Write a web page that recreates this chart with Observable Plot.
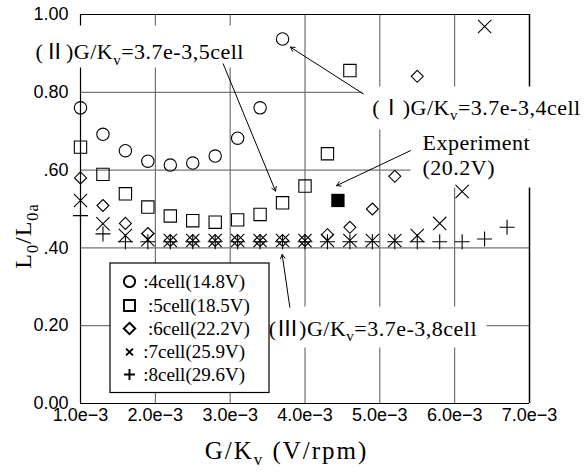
<!DOCTYPE html>
<html><head><meta charset="utf-8">
<script src="https://cdn.jsdelivr.net/npm/d3@7"></script>
<script src="https://cdn.jsdelivr.net/npm/@observablehq/plot@0.6"></script>
<style>
html,body{margin:0;padding:0;background:#fff;}
svg g[font-size="22"]{letter-spacing:0.5px;}
svg g[font-size="25"]{letter-spacing:2px;}
svg g[font-size="24"]{letter-spacing:1px;}
</style>
</head><body><div id="chart"></div>
<script>
// ---- axis ticks ----
const xTicks = [1e-3, 2e-3, 3e-3, 4e-3, 5e-3, 6e-3, 7e-3];
const xTickLabels = ["1.0e\u22123","2.0e\u22123","3.0e\u22123","4.0e\u22123","5.0e\u22123","6.0e\u22123","7.0e\u22123"];
const yTicks = [0, 0.2, 0.4, 0.6, 0.8, 1.0];
const yTickLabels = ["0.00","0.20",".40",".60","0.80","1.00"];

// ---- series data: G/Kv (V/rpm) and L0/L0a ----
const gkv4 = [1.0e-3,1.3e-3,1.6e-3,1.9e-3,2.2e-3,2.5e-3,2.8e-3,3.1e-3,3.4e-3,3.7e-3];
const ratio4 = [0.760,0.692,0.650,0.623,0.613,0.618,0.636,0.682,0.760,0.937];

const gkv5 = [1.0e-3,1.3e-3,1.6e-3,1.9e-3,2.2e-3,2.5e-3,2.8e-3,3.1e-3,3.4e-3,3.7e-3,4.0e-3,4.3e-3,4.6e-3];
const ratio5 = [0.659,0.589,0.539,0.505,0.482,0.470,0.466,0.472,0.486,0.516,0.559,0.642,0.856];

const gkv6 = [1.0e-3,1.3e-3,1.6e-3,1.9e-3,2.2e-3,2.5e-3,2.8e-3,3.1e-3,3.4e-3,3.7e-3,4.0e-3,4.3e-3,4.6e-3,4.9e-3,5.2e-3,5.5e-3];
const ratio6 = [0.580,0.509,0.463,0.437,0.419,0.419,0.419,0.419,0.419,0.419,0.419,0.434,0.453,0.500,0.584,0.841];

const gkv7 = [1.0e-3,1.3e-3,1.6e-3,1.9e-3,2.2e-3,2.5e-3,2.8e-3,3.1e-3,3.4e-3,3.7e-3,4.0e-3,4.3e-3,4.6e-3,4.9e-3,5.2e-3,5.5e-3,5.8e-3,6.1e-3,6.4e-3];
const ratio7 = [0.522,0.462,0.432,0.421,0.419,0.419,0.419,0.419,0.419,0.419,0.419,0.419,0.419,0.419,0.419,0.432,0.463,0.545,0.969];

const gkv8 = [1.0e-3,1.3e-3,1.6e-3,1.9e-3,2.2e-3,2.5e-3,2.8e-3,3.1e-3,3.4e-3,3.7e-3,4.0e-3,4.3e-3,4.6e-3,4.9e-3,5.2e-3,5.5e-3,5.8e-3,6.1e-3,6.4e-3,6.7e-3];
const ratio8 = [0.483,0.436,0.416,0.416,0.416,0.416,0.416,0.416,0.416,0.416,0.416,0.416,0.416,0.416,0.416,0.416,0.416,0.416,0.423,0.453];

const expGkv = [4.44e-3];
const expRatio = [0.522];

const legendLabels = [":4cell(14.8V)", "\u00a0:5cell(18.5V)", "\u00a0:6cell(22.2V)", ":7cell(25.9V)", ":8cell(29.6V)"];

// ---- annotations (data coordinates) ----
const annLabels = ["(\u2161)G/K_{v}=3.7e-3,5cell", "(\u2160)G/K_{v}=3.7e-3,4cell", "Experiment\n(20.2V)", "(\u2162)G/K_{v}=3.7e-3,8cell"];
const annX = [0.40e-3, 4.90e-3, 5.57e-3, 3.516e-3];
const annY = [0.907, 0.7635, 0.639, 0.1954];
const arrowX1 = [2.907e-3, 4.778e-3, 5.410e-3, 3.797e-3];
const arrowY1 = [0.873, 0.796, 0.650, 0.2476];
const arrowX2 = [3.606e-3, 3.806e-3, 4.421e-3, 3.695e-3];
const arrowY2 = [0.546, 0.916, 0.560, 0.383];

// ---- build tables ----
const toRows = (xs, ys) => xs.map((x, i) => ({x, y: ys[i]}));
const seriesRows = [toRows(gkv4, ratio4), toRows(gkv5, ratio5), toRows(gkv6, ratio6), toRows(gkv7, ratio7), toRows(gkv8, ratio8)];
const expRows = toRows(expGkv, expRatio);
const annRows = annLabels.map((t, i) => ({text: t, x: annX[i], y: annY[i]}));
const arrowRows = arrowX1.map((x1, i) => ({x1, y1: arrowY1[i], x2: arrowX2[i], y2: arrowY2[i]}));

// styles
const symbols = ["circle", "square", "diamond2", "times", "plus"];
const symR = [6.2, 6.95, 5.4, 6.1, 4.9];
const legR = [5.6, 6.2, 5.2, 3.2, 3.6];
const legDy = [267, 291, 314, 337.5, 360];

const serif = "'Liberation Serif','Noto Sans CJK JP',serif";

const marks = [
  Plot.ruleX(xTicks, {stroke: "#555", strokeWidth: 1}),
  Plot.ruleY(yTicks, {stroke: "#777", strokeWidth: 1.2}),
  Plot.ruleX([xTicks[0]], {stroke: "black", strokeWidth: 1.2}),
  Plot.ruleX([xTicks[xTicks.length - 1]], {stroke: "black", strokeWidth: 1.5}),
  Plot.ruleY([yTicks[0]], {stroke: "black", strokeWidth: 1.2}),
  Plot.ruleY([yTicks[yTicks.length - 1]], {stroke: "black", strokeWidth: 1.2}),
  // white boxes behind annotations
  Plot.frame({fill: "white", stroke: "none", insetLeft: -47, insetRight: 279, insetTop: 11, insetBottom: 336}),
  Plot.frame({fill: "white", stroke: "none", insetLeft: 282, insetRight: -55, insetTop: 72, insetBottom: 274}),
  Plot.frame({fill: "white", stroke: "none", insetLeft: 330, insetRight: -11, insetTop: 115, insetBottom: 216}),
  Plot.frame({fill: "white", stroke: "none", insetLeft: 189.5, insetRight: 43, insetTop: 292, insetBottom: 56}),
  // legend box
  Plot.frame({fill: "white", stroke: "black", strokeWidth: 1.2, insetLeft: 29.5, insetRight: 260.5, insetTop: 248.5, insetBottom: 11})
];

seriesRows.forEach((rows, i) => {
  marks.push(Plot.dot(rows, {x: "x", y: "y", symbol: () => symbols[i], r: symR[i], stroke: "black", strokeWidth: 1.1, fill: "none"}));
});
marks.push(Plot.dot(expRows, {x: "x", y: "y", symbol: () => "square", r: 7.5, fill: "black", stroke: "none"}));

marks.push(Plot.arrow(arrowRows, {x1: "x1", y1: "y1", x2: "x2", y2: "y2", stroke: "black", strokeWidth: 1, headLength: 7}));
marks.push(Plot.text(annRows, {x: "x", y: "y", text: "text", textAnchor: "start", lineAnchor: "middle", lineHeight: 1.14, fontFamily: serif, fontSize: 22, fill: "black"}));

legendLabels.forEach((lab, i) => {
  marks.push(Plot.dot([lab], {x: null, y: null, frameAnchor: "top-left", dx: 49, dy: legDy[i], symbol: () => symbols[i], r: legR[i], stroke: "black", strokeWidth: 1.9, fill: "none"}));
  marks.push(Plot.text([lab], {x: null, y: null, text: d => d, frameAnchor: "top-left", dx: 62.7, dy: legDy[i], textAnchor: "start", lineAnchor: "middle", fontFamily: serif, fontSize: 19, fill: "black"}));
});

marks.push(Plot.text(["G/K_{v} (V/rpm)"], {x: null, y: null, text: d => d, frameAnchor: "bottom", dx: -18.5, dy: 47, lineAnchor: "middle", fontFamily: serif, fontSize: 25, fill: "black"}));
marks.push(Plot.text(["L_{0}/L_{0a}"], {x: null, y: null, text: d => d, frameAnchor: "left", dx: -57, dy: 27, rotate: -90, textAnchor: "middle", lineAnchor: "middle", fontFamily: serif, fontSize: 24, fill: "black"}));

const chart = Plot.plot({
  width: 584, height: 473,
  marginLeft: 80, marginRight: 55, marginTop: 14, marginBottom: 70,
  style: {fontFamily: "'Liberation Sans', Arial, sans-serif", fontSize: "18px", background: "white", color: "black", overflow: "visible"},
  x: {domain: [1e-3, 7e-3], ticks: xTicks, tickFormat: d => xTickLabels[xTicks.indexOf(d)], tickSize: 0, tickPadding: 5, label: null},
  y: {domain: [0, 1], ticks: yTicks, tickFormat: d => yTickLabels[yTicks.indexOf(d)], tickSize: 0, tickPadding: 12, label: null},
  marks
});

// subscripts
const NS = "http://www.w3.org/2000/svg";
chart.querySelectorAll("text").forEach(t => {
  if (t.children.length) return;
  const s = t.textContent;
  if (!s.includes("_{")) return;
  t.textContent = "";
  const parts = s.split(/(_\{[^}]*\})/).filter(Boolean);
  let prevSub = false;
  for (const p of parts) {
    const ts = document.createElementNS(NS, "tspan");
    if (p.startsWith("_{")) {
      ts.textContent = p.slice(2, -1);
      ts.setAttribute("font-size", "68%");
      ts.setAttribute("dy", "0.4em");
      prevSub = true;
    } else {
      ts.textContent = p;
      if (prevSub) ts.setAttribute("dy", "-0.272em");
      prevSub = false;
    }
    t.appendChild(ts);
  }
});

document.getElementById("chart").appendChild(chart);
</script></body></html>
